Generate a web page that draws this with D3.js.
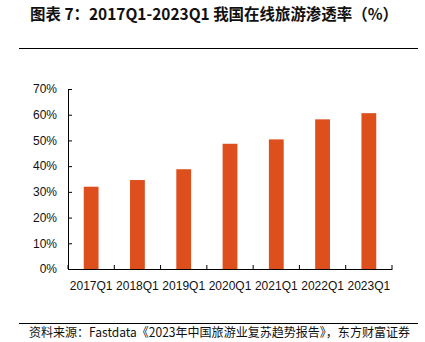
<!DOCTYPE html>
<html><head><meta charset="utf-8">
<script src="https://cdn.jsdelivr.net/npm/d3@7"></script>
<style>body{margin:0;background:#fff}svg{display:block}</style>
</head><body>
<script>
const categories = ["2017Q1","2018Q1","2019Q1","2020Q1","2021Q1","2022Q1","2023Q1"];
const values = [32.0, 34.6, 38.8, 48.7, 50.4, 58.2, 60.6];
const yTicks = [0,10,20,30,40,50,60,70];
const title = "图表 7：2017Q1-2023Q1 我国在线旅游渗透率（%）";
const source = "资料来源：Fastdata《2023年中国旅游业复苏趋势报告》，东方财富证券";

const W = 425, H = 342;
const svg = d3.select("body").append("svg").attr("width", W).attr("height", H);

const pL = 68, pR = 392, pT = 89, pB = 269;
const x = d3.scaleBand().domain(categories).range([pL, pR]).paddingInner(0.68).paddingOuter(0.34);
const y = d3.scaleLinear().domain([0, 70]).range([pB, pT]);

// title
svg.append("text").attr("x", 30).attr("y", 20)
  .attr("font-family", "'Noto Sans CJK SC'").attr("font-weight", "bold").attr("font-size", 16)
  .attr("textLength", 368).attr("lengthAdjust", "spacingAndGlyphs")
  .attr("fill", "#111").text(title);
svg.append("line").attr("x1", 19).attr("x2", 418).attr("y1", 48.5).attr("y2", 48.5)
  .attr("stroke", "#000").attr("stroke-width", 1);

// bars
svg.selectAll("rect.bar").data(values).join("rect").attr("class", "bar")
  .attr("x", (d, i) => x(categories[i])).attr("width", x.bandwidth())
  .attr("y", d => y(d)).attr("height", d => y(0) - y(d))
  .attr("fill", "#DE4F1E");

// y axis
const yAxis = svg.append("g").attr("transform", `translate(${pL},0)`)
  .call(d3.axisLeft(y).tickValues(yTicks).tickFormat(d => d + "%").tickSizeInner(-4).tickSizeOuter(0).tickPadding(11));
yAxis.select(".domain").attr("stroke", "#000");
yAxis.selectAll("text").attr("font-family", "'Liberation Sans', Arial").attr("font-size", 12).attr("fill", "#111");

// x axis
const xAxis = svg.append("g").attr("transform", `translate(0,${pB})`)
  .call(d3.axisBottom(x).tickSize(0).tickPadding(12));
xAxis.select(".domain").attr("stroke", "#000");
xAxis.selectAll("text").attr("font-family", "'Liberation Sans', Arial").attr("font-size", 12).attr("fill", "#111");
const half = (x.step() - x.bandwidth()) / 2;
const bounds = categories.map(c => x(c) - half).concat([x(categories[categories.length - 1]) + x.bandwidth() + half]);
xAxis.selectAll("line.bt").data(bounds).join("line").attr("class", "bt")
  .attr("x1", d => d).attr("x2", d => d).attr("y1", 0).attr("y2", -4)
  .attr("stroke", "#000");

// source
svg.append("line").attr("x1", 19).attr("x2", 418).attr("y1", 323.5).attr("y2", 323.5)
  .attr("stroke", "#000").attr("stroke-width", 1);
svg.append("text").attr("x", 29).attr("y", 337)
  .attr("font-family", "'Noto Sans CJK SC'").attr("font-size", 12.5)
  .attr("textLength", 381).attr("lengthAdjust", "spacingAndGlyphs")
  .attr("fill", "#111").text(source);
</script>
</body></html>
